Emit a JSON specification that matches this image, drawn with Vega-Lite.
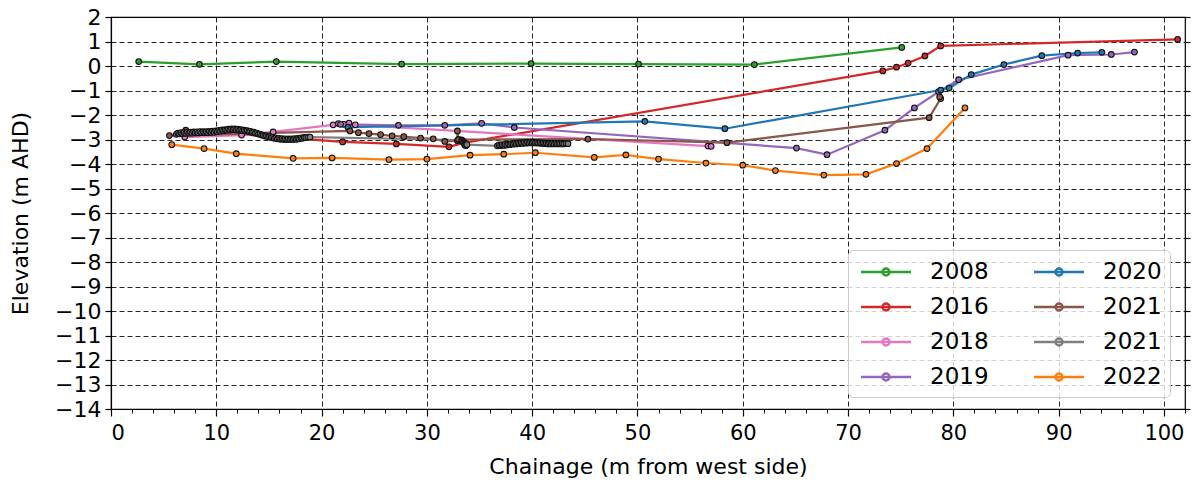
{
  "$schema": "https://vega.github.io/schema/vega-lite/v6.json",
  "autosize": "none",
  "width": 1074,
  "height": 392,
  "padding": {"left": 111, "top": 17, "right": 11, "bottom": 77},
  "background": "white",
  "config": {
    "font": "DejaVu Sans",
    "view": {"stroke": "black", "strokeWidth": 1.2},
    "axis": {"labelFont": "DejaVu Sans", "titleFont": "DejaVu Sans", "labelColor": "black", "titleColor": "black", "titleFontWeight": "normal", "domainColor": "black", "tickColor": "black"}
  },
  "data": {"values": [
    {"s": "2008", "x": 2.63, "y": 0.18}, {"s": "2008", "x": 8.4, "y": 0.07}, {"s": "2008", "x": 15.7, "y": 0.18}, {"s": "2008", "x": 27.6, "y": 0.08}, {"s": "2008", "x": 39.9, "y": 0.1}, {"s": "2008", "x": 50.1, "y": 0.08}, {"s": "2008", "x": 61.1, "y": 0.06}, {"s": "2008", "x": 75.1, "y": 0.76},
    {"s": "2016", "x": 7.1, "y": -2.62}, {"s": "2016", "x": 22.0, "y": -3.1}, {"s": "2016", "x": 27.1, "y": -3.18}, {"s": "2016", "x": 32.1, "y": -3.3}, {"s": "2016", "x": 33.5, "y": -3.14}, {"s": "2016", "x": 73.3, "y": -0.2}, {"s": "2016", "x": 74.6, "y": -0.05}, {"s": "2016", "x": 75.7, "y": 0.12}, {"s": "2016", "x": 77.3, "y": 0.41}, {"s": "2016", "x": 78.8, "y": 0.82}, {"s": "2016", "x": 101.3, "y": 1.09},
    {"s": "2018", "x": 7.0, "y": -2.9}, {"s": "2018", "x": 12.4, "y": -2.82}, {"s": "2018", "x": 15.4, "y": -2.69}, {"s": "2018", "x": 21.1, "y": -2.4}, {"s": "2018", "x": 21.6, "y": -2.35}, {"s": "2018", "x": 22.1, "y": -2.38}, {"s": "2018", "x": 22.6, "y": -2.33}, {"s": "2018", "x": 23.2, "y": -2.4}, {"s": "2018", "x": 56.7, "y": -3.27}, {"s": "2018", "x": 57.0, "y": -3.28},
    {"s": "2019", "x": 21.8, "y": -2.38}, {"s": "2019", "x": 27.3, "y": -2.42}, {"s": "2019", "x": 31.7, "y": -2.42}, {"s": "2019", "x": 35.2, "y": -2.34}, {"s": "2019", "x": 38.3, "y": -2.51}, {"s": "2019", "x": 65.1, "y": -3.35}, {"s": "2019", "x": 68.0, "y": -3.62}, {"s": "2019", "x": 73.5, "y": -2.62}, {"s": "2019", "x": 76.3, "y": -1.71}, {"s": "2019", "x": 78.6, "y": -1.05}, {"s": "2019", "x": 80.5, "y": -0.56}, {"s": "2019", "x": 90.9, "y": 0.44}, {"s": "2019", "x": 95.0, "y": 0.47}, {"s": "2019", "x": 97.2, "y": 0.57},
    {"s": "2020", "x": 22.5, "y": -2.5}, {"s": "2020", "x": 50.7, "y": -2.26}, {"s": "2020", "x": 58.3, "y": -2.56}, {"s": "2020", "x": 78.8, "y": -0.98}, {"s": "2020", "x": 79.6, "y": -0.9}, {"s": "2020", "x": 81.7, "y": -0.35}, {"s": "2020", "x": 84.8, "y": 0.06}, {"s": "2020", "x": 88.4, "y": 0.42}, {"s": "2020", "x": 91.8, "y": 0.53}, {"s": "2020", "x": 94.1, "y": 0.56},
    {"s": "2021a", "x": 5.55, "y": -2.84}, {"s": "2021a", "x": 22.7, "y": -2.65}, {"s": "2021a", "x": 23.5, "y": -2.72}, {"s": "2021a", "x": 24.5, "y": -2.76}, {"s": "2021a", "x": 25.6, "y": -2.8}, {"s": "2021a", "x": 26.7, "y": -2.85}, {"s": "2021a", "x": 27.8, "y": -2.88}, {"s": "2021a", "x": 29.4, "y": -2.94}, {"s": "2021a", "x": 30.6, "y": -2.97}, {"s": "2021a", "x": 31.7, "y": -3.08}, {"s": "2021a", "x": 32.9, "y": -3.05}, {"s": "2021a", "x": 32.9, "y": -2.65}, {"s": "2021a", "x": 33.0, "y": -3.0}, {"s": "2021a", "x": 45.3, "y": -2.98}, {"s": "2021a", "x": 58.5, "y": -3.13}, {"s": "2021a", "x": 77.7, "y": -2.11}, {"s": "2021a", "x": 78.8, "y": -1.33}, {"s": "2021a", "x": 78.7, "y": -1.26},
    {"s": "2021b", "x": 6.2, "y": -2.79}, {"s": "2021b", "x": 6.35, "y": -2.74}, {"s": "2021b", "x": 6.5, "y": -2.77}, {"s": "2021b", "x": 6.65, "y": -2.72}, {"s": "2021b", "x": 6.8, "y": -2.76}, {"s": "2021b", "x": 6.95, "y": -2.71}, {"s": "2021b", "x": 7.1, "y": -2.75}, {"s": "2021b", "x": 7.25, "y": -2.7}, {"s": "2021b", "x": 7.4, "y": -2.74}, {"s": "2021b", "x": 7.55, "y": -2.7}, {"s": "2021b", "x": 7.7, "y": -2.74}, {"s": "2021b", "x": 7.85, "y": -2.69}, {"s": "2021b", "x": 8.0, "y": -2.73}, {"s": "2021b", "x": 8.15, "y": -2.69}, {"s": "2021b", "x": 8.3, "y": -2.73}, {"s": "2021b", "x": 8.45, "y": -2.68}, {"s": "2021b", "x": 8.6, "y": -2.72}, {"s": "2021b", "x": 8.75, "y": -2.68}, {"s": "2021b", "x": 8.9, "y": -2.72}, {"s": "2021b", "x": 9.05, "y": -2.68}, {"s": "2021b", "x": 9.2, "y": -2.72}, {"s": "2021b", "x": 9.35, "y": -2.67}, {"s": "2021b", "x": 9.5, "y": -2.71}, {"s": "2021b", "x": 9.65, "y": -2.66}, {"s": "2021b", "x": 9.8, "y": -2.7}, {"s": "2021b", "x": 9.95, "y": -2.65}, {"s": "2021b", "x": 10.1, "y": -2.68}, {"s": "2021b", "x": 10.25, "y": -2.63}, {"s": "2021b", "x": 10.4, "y": -2.66}, {"s": "2021b", "x": 10.55, "y": -2.61}, {"s": "2021b", "x": 10.7, "y": -2.64}, {"s": "2021b", "x": 10.85, "y": -2.6}, {"s": "2021b", "x": 11.0, "y": -2.62}, {"s": "2021b", "x": 11.15, "y": -2.58}, {"s": "2021b", "x": 11.3, "y": -2.61}, {"s": "2021b", "x": 11.45, "y": -2.57}, {"s": "2021b", "x": 11.6, "y": -2.6}, {"s": "2021b", "x": 11.75, "y": -2.57}, {"s": "2021b", "x": 11.9, "y": -2.61}, {"s": "2021b", "x": 12.05, "y": -2.58}, {"s": "2021b", "x": 12.2, "y": -2.62}, {"s": "2021b", "x": 12.35, "y": -2.6}, {"s": "2021b", "x": 12.5, "y": -2.64}, {"s": "2021b", "x": 12.65, "y": -2.62}, {"s": "2021b", "x": 12.8, "y": -2.66}, {"s": "2021b", "x": 12.95, "y": -2.64}, {"s": "2021b", "x": 13.1, "y": -2.68}, {"s": "2021b", "x": 13.25, "y": -2.67}, {"s": "2021b", "x": 13.4, "y": -2.71}, {"s": "2021b", "x": 13.55, "y": -2.7}, {"s": "2021b", "x": 13.7, "y": -2.74}, {"s": "2021b", "x": 13.85, "y": -2.74}, {"s": "2021b", "x": 14.0, "y": -2.78}, {"s": "2021b", "x": 14.15, "y": -2.78}, {"s": "2021b", "x": 14.3, "y": -2.82}, {"s": "2021b", "x": 14.45, "y": -2.82}, {"s": "2021b", "x": 14.6, "y": -2.86}, {"s": "2021b", "x": 14.75, "y": -2.85}, {"s": "2021b", "x": 14.9, "y": -2.89}, {"s": "2021b", "x": 15.05, "y": -2.88}, {"s": "2021b", "x": 15.2, "y": -2.92}, {"s": "2021b", "x": 15.35, "y": -2.91}, {"s": "2021b", "x": 15.5, "y": -2.95}, {"s": "2021b", "x": 15.65, "y": -2.93}, {"s": "2021b", "x": 15.8, "y": -2.97}, {"s": "2021b", "x": 15.95, "y": -2.95}, {"s": "2021b", "x": 16.1, "y": -2.99}, {"s": "2021b", "x": 16.25, "y": -2.96}, {"s": "2021b", "x": 16.4, "y": -3.0}, {"s": "2021b", "x": 16.55, "y": -2.97}, {"s": "2021b", "x": 16.7, "y": -3.0}, {"s": "2021b", "x": 16.85, "y": -2.97}, {"s": "2021b", "x": 17.0, "y": -3.0}, {"s": "2021b", "x": 17.15, "y": -2.97}, {"s": "2021b", "x": 17.3, "y": -3.0}, {"s": "2021b", "x": 17.45, "y": -2.96}, {"s": "2021b", "x": 17.6, "y": -2.99}, {"s": "2021b", "x": 17.75, "y": -2.95}, {"s": "2021b", "x": 17.9, "y": -2.97}, {"s": "2021b", "x": 18.05, "y": -2.93}, {"s": "2021b", "x": 18.2, "y": -2.95}, {"s": "2021b", "x": 18.35, "y": -2.91}, {"s": "2021b", "x": 18.5, "y": -2.92}, {"s": "2021b", "x": 18.7, "y": -2.9}, {"s": "2021b", "x": 18.9, "y": -2.9},
    {"s": "2021b", "x": 33.3, "y": -3.02}, {"s": "2021b", "x": 33.4, "y": -3.06}, {"s": "2021b", "x": 33.5, "y": -3.1}, {"s": "2021b", "x": 33.5, "y": -3.14}, {"s": "2021b", "x": 33.6, "y": -3.18}, {"s": "2021b", "x": 33.6, "y": -3.22}, {"s": "2021b", "x": 33.7, "y": -3.25}, {"s": "2021b", "x": 33.8, "y": -3.21},
    {"s": "2021b", "x": 36.7, "y": -3.26}, {"s": "2021b", "x": 36.85, "y": -3.22}, {"s": "2021b", "x": 37.0, "y": -3.25}, {"s": "2021b", "x": 37.15, "y": -3.21}, {"s": "2021b", "x": 37.3, "y": -3.24}, {"s": "2021b", "x": 37.45, "y": -3.2}, {"s": "2021b", "x": 37.6, "y": -3.23}, {"s": "2021b", "x": 37.75, "y": -3.19}, {"s": "2021b", "x": 37.9, "y": -3.21}, {"s": "2021b", "x": 38.05, "y": -3.17}, {"s": "2021b", "x": 38.2, "y": -3.19}, {"s": "2021b", "x": 38.35, "y": -3.15}, {"s": "2021b", "x": 38.5, "y": -3.18}, {"s": "2021b", "x": 38.65, "y": -3.14}, {"s": "2021b", "x": 38.8, "y": -3.17}, {"s": "2021b", "x": 38.95, "y": -3.13}, {"s": "2021b", "x": 39.1, "y": -3.16}, {"s": "2021b", "x": 39.25, "y": -3.12}, {"s": "2021b", "x": 39.4, "y": -3.15}, {"s": "2021b", "x": 39.55, "y": -3.11}, {"s": "2021b", "x": 39.7, "y": -3.14}, {"s": "2021b", "x": 39.85, "y": -3.11}, {"s": "2021b", "x": 40.0, "y": -3.14}, {"s": "2021b", "x": 40.15, "y": -3.11}, {"s": "2021b", "x": 40.3, "y": -3.14}, {"s": "2021b", "x": 40.45, "y": -3.12}, {"s": "2021b", "x": 40.6, "y": -3.15}, {"s": "2021b", "x": 40.75, "y": -3.13}, {"s": "2021b", "x": 40.9, "y": -3.16}, {"s": "2021b", "x": 41.05, "y": -3.14}, {"s": "2021b", "x": 41.2, "y": -3.17}, {"s": "2021b", "x": 41.35, "y": -3.15}, {"s": "2021b", "x": 41.5, "y": -3.18}, {"s": "2021b", "x": 41.65, "y": -3.15}, {"s": "2021b", "x": 41.8, "y": -3.18}, {"s": "2021b", "x": 41.95, "y": -3.15}, {"s": "2021b", "x": 42.1, "y": -3.18}, {"s": "2021b", "x": 42.25, "y": -3.15}, {"s": "2021b", "x": 42.4, "y": -3.18}, {"s": "2021b", "x": 42.55, "y": -3.15}, {"s": "2021b", "x": 42.7, "y": -3.18}, {"s": "2021b", "x": 42.85, "y": -3.15}, {"s": "2021b", "x": 43.0, "y": -3.18}, {"s": "2021b", "x": 43.2, "y": -3.16}, {"s": "2021b", "x": 43.4, "y": -3.17},
    {"s": "2022", "x": 5.77, "y": -3.21}, {"s": "2022", "x": 8.84, "y": -3.37}, {"s": "2022", "x": 11.9, "y": -3.58}, {"s": "2022", "x": 17.3, "y": -3.77}, {"s": "2022", "x": 21.0, "y": -3.75}, {"s": "2022", "x": 26.4, "y": -3.82}, {"s": "2022", "x": 30.0, "y": -3.8}, {"s": "2022", "x": 34.1, "y": -3.64}, {"s": "2022", "x": 37.3, "y": -3.6}, {"s": "2022", "x": 40.3, "y": -3.54}, {"s": "2022", "x": 45.9, "y": -3.73}, {"s": "2022", "x": 48.9, "y": -3.63}, {"s": "2022", "x": 52.0, "y": -3.8}, {"s": "2022", "x": 56.5, "y": -3.96}, {"s": "2022", "x": 60.0, "y": -4.05}, {"s": "2022", "x": 63.1, "y": -4.27}, {"s": "2022", "x": 67.7, "y": -4.45}, {"s": "2022", "x": 71.7, "y": -4.42}, {"s": "2022", "x": 74.6, "y": -3.98}, {"s": "2022", "x": 77.5, "y": -3.37}, {"s": "2022", "x": 81.1, "y": -1.71}
  ]},
  "layer": [
    {
      "mark": {"type": "line", "strokeWidth": 2.2},
      "encoding": {
        "x": {"field": "x", "type": "quantitative", "scale": {"domain": [0, 102], "nice": false, "zero": false},
          "axis": {"orient": "bottom", "title": "Chainage (m from west side)", "values": [0, 10, 20, 30, 40, 50, 60, 70, 80, 90, 100], "format": "d", "labelFontSize": 21, "titleFontSize": 22, "tickSize": 7, "labelPadding": 6, "titlePadding": 13, "grid": true, "gridColor": "black", "gridDash": [5, 3], "gridOpacity": 0.85, "gridWidth": 1, "domainWidth": 1.2, "tickWidth": 1.2}},
        "y": {"field": "y", "type": "quantitative", "scale": {"domain": [-14, 2], "nice": false, "zero": false},
          "axis": {"orient": "left", "title": "Elevation (m AHD)", "values": [-14, -13, -12, -11, -10, -9, -8, -7, -6, -5, -4, -3, -2, -1, 0, 1, 2], "format": "d", "labelFontSize": 22, "titleFontSize": 22, "tickSize": 6, "labelPadding": 4, "titlePadding": 22, "grid": true, "gridColor": "black", "gridDash": [5, 3], "gridOpacity": 0.85, "gridWidth": 1, "domainWidth": 1.2, "tickWidth": 1.2}},
        "color": {"field": "s", "type": "nominal",
          "scale": {"domain": ["2008", "2016", "2018", "2019", "2020", "2021a", "2021b", "2022"], "range": ["#2ca02c", "#d62728", "#e377c2", "#9467bd", "#1f77b4", "#8c564b", "#7f7f7f", "#ff7f0e"]},
          "legend": {"title": null, "orient": "none", "legendX": 737, "legendY": 233, "columns": 2, "columnPadding": 40, "rowPadding": 9, "labelFontSize": 23, "labelFont": "DejaVu Sans", "labelColor": "black", "labelExpr": "slice(datum.label, 0, 4)", "labelOffset": 30, "symbolOffset": 16,
            "symbolType": "M-2,0L2,0M-0.28,0A0.28,0.28,0,1,0,0.28,0A0.28,0.28,0,1,0,-0.28,0Z", "symbolSize": 625, "symbolStrokeWidth": 2.5,
            "fillColor": "rgba(255,255,255,0.8)", "strokeColor": "#cccccc", "cornerRadius": 5, "padding": 8}},
        "order": {"value": null}
      }
    },
    {
      "mark": {"type": "point", "filled": true, "size": 32, "stroke": "#111111", "strokeWidth": 1.1, "opacity": 1},
      "encoding": {
        "x": {"field": "x", "type": "quantitative", "axis": null},
        "y": {"field": "y", "type": "quantitative", "axis": null},
        "color": {"field": "s", "type": "nominal"},
        "fill": {"field": "s", "type": "nominal", "legend": null, "scale": {"domain": ["2008", "2016", "2018", "2019", "2020", "2021a", "2021b", "2022"], "range": ["#2ca02c", "#d62728", "#e377c2", "#9467bd", "#1f77b4", "#8c564b", "#7f7f7f", "#ff7f0e"]}}
      }
    },
    {
      "mark": {"type": "point", "opacity": 0},
      "encoding": {
        "x": {"field": "x", "type": "quantitative", "axis": {"orient": "bottom", "title": null, "labels": false, "grid": false, "domain": false, "tickSize": 4, "tickWidth": 1, "values": [2, 4, 6, 8, 12, 14, 16, 18, 22, 24, 26, 28, 32, 34, 36, 38, 42, 44, 46, 48, 52, 54, 56, 58, 62, 64, 66, 68, 72, 74, 76, 78, 82, 84, 86, 88, 92, 94, 96, 98, 102]}},
        "y": {"field": "y", "type": "quantitative", "axis": {"orient": "right", "title": null, "labels": false, "grid": false, "domain": false, "tickSize": 5, "tickWidth": 1.2, "values": [-14, -13, -12, -11, -10, -9, -8, -7, -6, -5, -4, -3, -2, -1, 0, 1, 2]}}
      }
    }
  ],
  "resolve": {"axis": {"x": "independent", "y": "independent"}, "scale": {"fill": "independent"}}
}
